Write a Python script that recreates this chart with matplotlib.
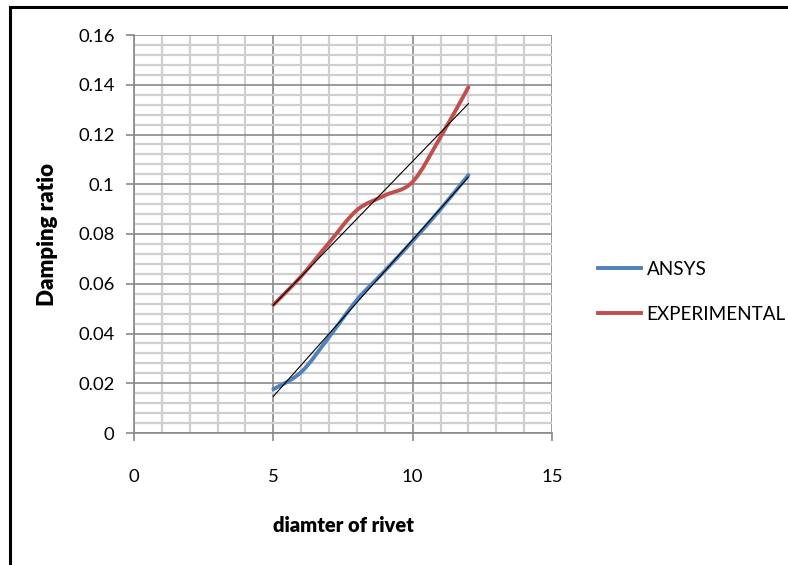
import numpy as np
import matplotlib
matplotlib.use("Agg")
import matplotlib.pyplot as plt
from matplotlib.lines import Line2D
from matplotlib.path import Path
from matplotlib.patches import PathPatch
from matplotlib.ticker import MultipleLocator

# Data
diameter = [5, 6, 7, 8, 9, 10, 11, 12]
ansys = [0.0176, 0.0245, 0.0386, 0.0535, 0.0652, 0.0772, 0.0900, 0.1037]
experimental = [0.0515, 0.0630, 0.0765, 0.0896, 0.0955, 0.1010, 0.1190, 0.1390]
series_names = ["ANSYS", "EXPERIMENTAL"]
x_ticks = [0, 5, 10, 15]
y_ticks = [0, 0.02, 0.04, 0.06, 0.08, 0.1, 0.12, 0.14, 0.16]
y_tick_labels = ["0", "0.02", "0.04", "0.06", "0.08", "0.1", "0.12", "0.14", "0.16"]

plt.rcParams['font.family'] = ['Lato', 'DejaVu Sans']


def smooth_path(xs, ys):
    """Excel-style smoothed line: cubic Bezier segments through the data."""
    P = np.column_stack([xs, ys]).astype(float)
    n = len(P)
    verts = [P[0]]
    codes = [Path.MOVETO]
    for i in range(n - 1):
        p0 = P[i - 1] if i > 0 else P[i]
        p1, p2 = P[i], P[i + 1]
        p3 = P[i + 2] if i + 2 < n else P[i + 1]
        c1 = p1 + (p2 - p0) / 6.0
        c2 = p2 - (p3 - p1) / 6.0
        verts += [c1, c2, p2]
        codes += [Path.CURVE4] * 3
    return Path(verts, codes)


fig = plt.figure(figsize=(7.88, 5.65), dpi=100)
ax = fig.add_axes([134/788, 1-433/565, (552-134)/788, (433-35)/565])

ax.set_xlim(0, 15)
ax.set_ylim(0, 0.16)
ax.set_xticks(x_ticks)
ax.set_yticks(y_ticks)
ax.set_yticklabels(y_tick_labels)
ax.xaxis.set_minor_locator(MultipleLocator(1))
ax.yaxis.set_minor_locator(MultipleLocator(0.004))
ax.grid(which='minor', color='#cfcfcf', linewidth=1.6)
ax.grid(which='major', color='#8a8a8a', linewidth=1.2)
ax.set_axisbelow(True)
ax.tick_params(which='minor', length=0)
ax.tick_params(which='major', length=6, color='#8a8a8a', width=1.2,
               labelsize=13.3, direction='out')
ax.tick_params(axis='y', pad=8)
ax.tick_params(axis='x', pad=20)
for s in ['top', 'right']:
    ax.spines[s].set_visible(False)
for s in ['left', 'bottom']:
    ax.spines[s].set_color('#8a8a8a')
    ax.spines[s].set_linewidth(1.2)

c_blue = '#4F81BD'
c_red = '#C0504D'
for ys, col in ((ansys, c_blue), (experimental, c_red)):
    ax.add_patch(PathPatch(smooth_path(diameter, ys), facecolor='none',
                           edgecolor=col, lw=2.8, capstyle='round',
                           joinstyle='round', zorder=3))

# linear trend lines
xd = np.array(diameter, dtype=float)
for ys in (ansys, experimental):
    p = np.polyfit(xd, ys, 1)
    ax.plot([xd[0], xd[-1]], np.polyval(p, [xd[0], xd[-1]]), color='black',
            lw=0.8, zorder=4)

ax.set_xlabel("diamter of rivet", fontsize=14.5, fontweight='heavy', va='center')
ax.set_ylabel("Damping ratio", fontsize=16, fontweight='heavy', va='center')
ax.xaxis.set_label_coords((343-134)/418, (433-525)/398)
ax.yaxis.set_label_coords((47-134)/418, 0.5)

handles = [Line2D([], [], color=c_blue, lw=2.8), Line2D([], [], color=c_red, lw=2.8)]
fig.legend(handles, series_names, loc='upper left', bbox_to_anchor=(590/788, 1-253/565),
           frameon=False, fontsize=13.6, handlelength=2.3, labelspacing=1.5,
           handletextpad=0.3, borderaxespad=0)

# outer border (left and top)
fig.add_artist(Line2D([10/788, 10/788], [0, 1-7/565], color='black', lw=2.2,
                      transform=fig.transFigure))
fig.add_artist(Line2D([10/788, 1], [1-7/565, 1-7/565], color='black', lw=2.2,
                      transform=fig.transFigure))

fig.savefig("out.png", dpi=100, facecolor='white')
